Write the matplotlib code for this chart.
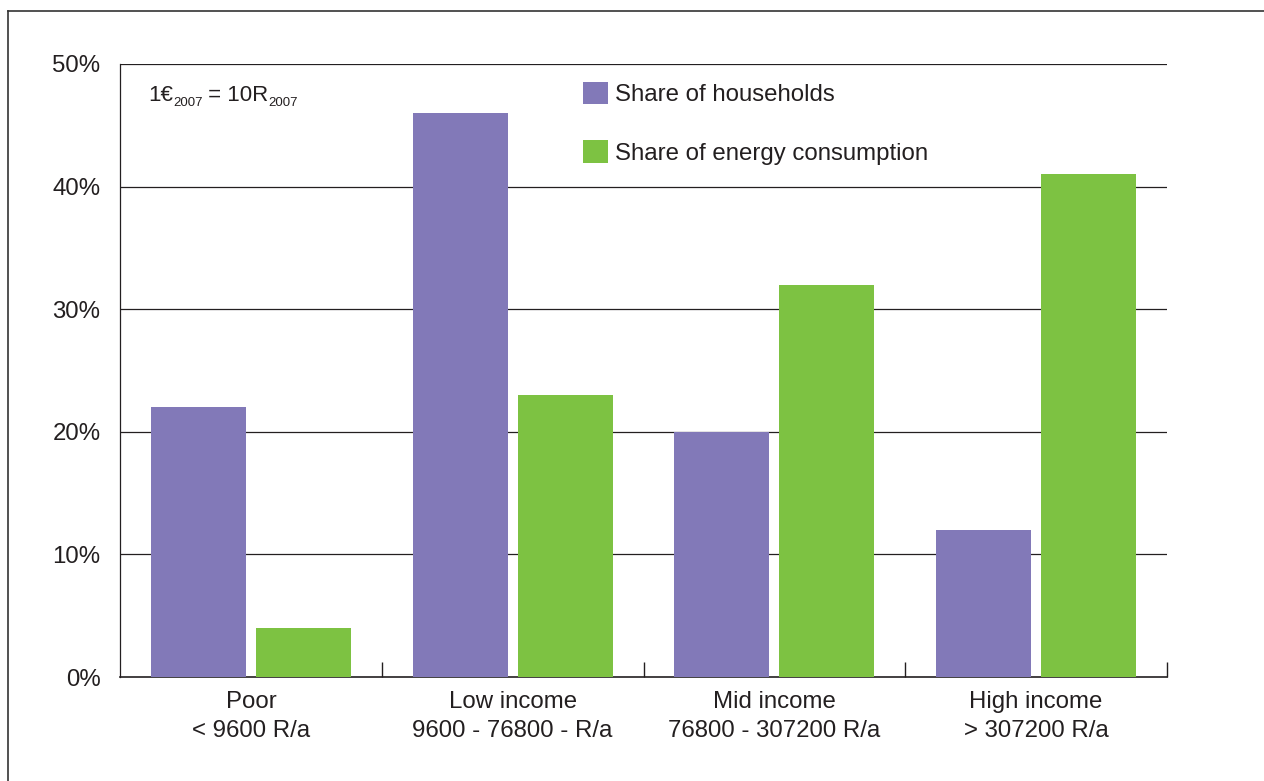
import matplotlib
matplotlib.use("Agg")
import matplotlib.pyplot as plt
from matplotlib.lines import Line2D
from matplotlib.patches import Patch
from matplotlib.transforms import offset_copy
import numpy as np

# Income groups and their shares (percent)
categories = ["Poor\n< 9600 R/a", "Low income\n9600 - 76800 - R/a",
              "Mid income\n76800 - 307200 R/a", "High income\n> 307200 R/a"]
share_households = [22, 46, 20, 12]
share_energy = [4, 23, 32, 41]
y_ticks = [0, 10, 20, 30, 40, 50]
series_labels = ["Share of households", "Share of energy consumption"]

purple = "#8279B8"
green = "#7DC242"
ink = "#231F20"

plt.rcParams["font.family"] = ["Liberation Sans", "DejaVu Sans"]
plt.rcParams["text.color"] = ink

fig = plt.figure(figsize=(12.64, 7.81), dpi=100)
ax = fig.add_axes([120 / 1264, 1 - 677 / 781, 1047 / 1264, 613 / 781])

x = np.arange(len(categories))
width = 0.363
offset = 0.2006
ax.bar(x - offset, share_households, width, color=purple, zorder=3)
ax.bar(x + offset, share_energy, width, color=green, zorder=3)

ax.set_xlim(-0.5, len(categories) - 0.5)
ax.set_ylim(0, 50)

# horizontal grid lines
for v in y_ticks[1:]:
    ax.axhline(v, color=ink, lw=0.9, zorder=1)

ax.set_yticks(y_ticks)
ax.set_yticklabels([f"{v}%" for v in y_ticks])
ax.tick_params(axis="y", length=0, pad=14, labelsize=17.3, colors=ink)

# group boundaries as inward ticks, category labels centered
ax.set_xticks(np.arange(0.5, len(categories), 1.0))
ax.set_xticklabels([])
ax.tick_params(axis="x", which="major", direction="in", length=11, width=1.0, color=ink)
ax.set_xticks(x, minor=True)
ax.set_xticklabels(categories, minor=True)
ax.tick_params(axis="x", which="minor", length=0, pad=10, labelsize=17.3, colors=ink)
for lbl in ax.get_xticklabels(minor=True):
    lbl.set_linespacing(1.42)

for side in ["top", "right"]:
    ax.spines[side].set_visible(False)
ax.spines["left"].set_color(ink)
ax.spines["left"].set_linewidth(0.9)
ax.spines["bottom"].set_color(ink)
ax.spines["bottom"].set_linewidth(1.2)

handles = [Patch(facecolor=purple, edgecolor="none"), Patch(facecolor=green, edgecolor="none")]
ax.legend(handles, series_labels, loc="upper left", bbox_to_anchor=(0.442, 0.971),
          frameon=False, fontsize=17.3, handlelength=1.05, handleheight=1.05,
          handletextpad=0.28, labelspacing=1.42, borderpad=0, borderaxespad=0)

# exchange-rate note with small lowered subscripts
renderer = fig.canvas.get_renderer()
pieces = [("1€", 16, 0), ("2007", 9.5, -5), (" = 10R", 16, 0), ("2007", 9.5, -5)]
trans = ax.transAxes
x0, y0 = 28 / 1047, 1 - (101 - 64) / 613
shift = 0.0
for txt, size, dy in pieces:
    t = ax.text(x0, y0, txt, fontsize=size, ha="left", va="baseline",
                transform=offset_copy(trans, fig=fig, x=shift, y=dy, units="dots"))
    shift += t.get_window_extent(renderer=renderer).width

# outer frame
fig.add_artist(Line2D([8 / 1264, 1.0], [1 - 11 / 781, 1 - 11 / 781], color="#333333", lw=1.2,
                      transform=fig.transFigure))
fig.add_artist(Line2D([8 / 1264, 8 / 1264], [0, 1 - 11 / 781], color="#333333", lw=1.2,
                      transform=fig.transFigure))

fig.savefig("out.png", dpi=100)
